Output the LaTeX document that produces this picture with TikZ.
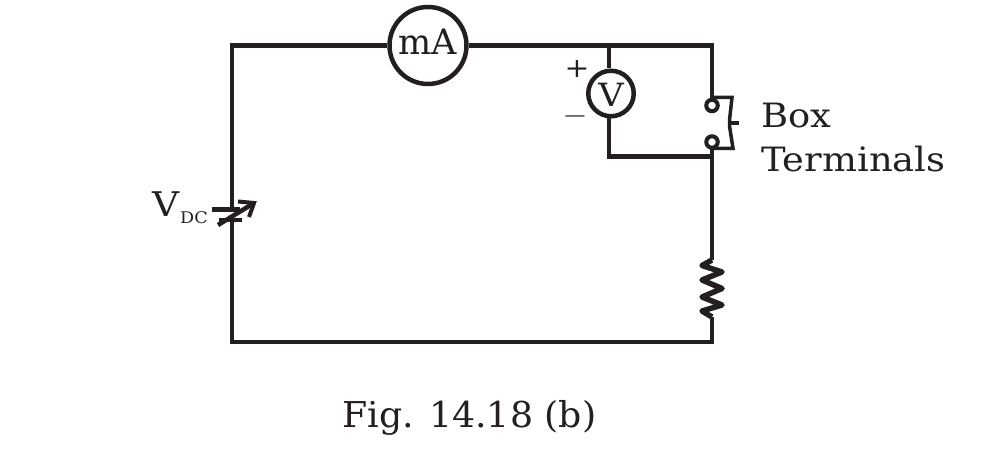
\documentclass[tikz,border=0pt]{standalone}
\usepackage{fontspec}
\setmainfont[FakeStretch=1.1]{DejaVu Serif}
\newfontfamily\plainserif{DejaVu Serif}
\newfontfamily\figserif[FakeStretch=1.02]{DejaVu Serif}
\begin{document}
\begin{tikzpicture}[x=1pt,y=-1pt,
  wire/.style={line width=4.5pt,draw=ink,line join=miter},
  meter/.style={circle,draw=ink,line width=4.5pt,inner sep=0pt,fill=white},
  terminal/.style={circle,draw=ink,line width=4pt,inner sep=0pt,minimum size=11.5pt,fill=white},
  txt/.style={text=ink,inner sep=0pt}]
\definecolor{ink}{HTML}{231F20}
\useasboundingbox (0,0) rectangle (1000,470);
\coordinate (tl) at (232,45.5);
\coordinate (tr) at (712,45.5);
\coordinate (bl) at (232,342);
\coordinate (br) at (712,342);
\coordinate (vtop) at (609,45.5);
\coordinate (vbot) at (609,156.5);
\coordinate (jn) at (712,156.5);
\coordinate (bp1) at (232,209);
\coordinate (bp2) at (232,220);
\coordinate (rt) at (712,260);
\coordinate (rb) at (712,317);
\node[meter,minimum size=77pt] (mA) at (428,45.5) {};
\node[meter,minimum size=45.5pt] (V) at (611,93.5) {};
% wires
\draw[wire] (mA.west) -- (tl) -- (bp1);
\draw[wire] (bp2) -- (bl) -- (br) -- (rb);
\draw[wire] (mA.east) -- (tr) -- (712,100);
\draw[wire] (vtop) -- (vtop |- V.north);
\draw[wire] (vtop |- V.south) -- (vbot) -- (jn);
\draw[wire] (712,148) -- (rt);
% box bracket
\coordinate (b1) at (732,97.5); \coordinate (b2) at (729.5,120); \coordinate (b3) at (729.5,126);
\coordinate (b4) at (733,148.5); \coordinate (nk) at (739,123);
\coordinate (b0) at (714,97.5); \coordinate (b5) at (714,148.5);
\draw[wire,line width=3.5pt] (b0) -- (b1) -- (b2) -- (b3) -- (b4) -- (b5);
\draw[wire,line width=3.5pt] (b2 |- nk) -- (nk);
\node[terminal] (t1) at (712,105.5) {};
\node[terminal] (t2) at (712,142) {};
% battery
\coordinate (p1a) at (212,209.5); \coordinate (p1b) at (240,209.5);
\coordinate (p2a) at (219,220); \coordinate (p2b) at (242,220);
\draw[wire] (p1a) -- (p1b);
\draw[wire] (p2a) -- (p2b);
\coordinate (a1) at (218,225); \coordinate (a2) at (254,203);
\coordinate (a3) at (238,201.5); \coordinate (a4) at (249,217);
\draw[wire] (a1) -- (a2);
\draw[wire,line width=4pt] (a3) -- (a2) -- (a4);
% resistor
\draw[wire,line width=5.5pt,line join=round] (rt) -- (702,265.5) -- (722,272) -- (702,280) -- (722,288.5) -- (702,297) -- (722,305) -- (702,311) -- (rb);
% labels
\node[txt,anchor=base,font=\plainserif\fontsize{35}{35}\selectfont] (mAl) at (428,55) {mA};
\node[txt,anchor=base,font=\fontsize{32}{32}\selectfont] (Vl) at (611,107) {V};
\node[txt,font=\fontsize{27}{27}\selectfont] (plus) at (577,69) {+};
\node[txt,font=\fontsize{19}{19}\selectfont] (minus) at (575,119) {—};
\node[txt,anchor=base west,font=\fontsize{34}{34}\selectfont] (vdc) at (152,217) {V};
\node[txt,anchor=base west,font=\fontsize{16}{16}\selectfont] (dc) at (180,224) {DC};
\node[txt,anchor=base west,font=\fontsize{33.5}{33.5}\selectfont] (box) at (761,128) {Box};
\node[txt,anchor=base west,font=\fontsize{33.5}{33.5}\selectfont] (term) at (761,172) {Terminals};
\node[txt,anchor=base west,font=\figserif\fontsize{35.6}{35.6}\selectfont] (fig) at (342,427) {Fig. 14.18 (b)};
\end{tikzpicture}
\end{document}
